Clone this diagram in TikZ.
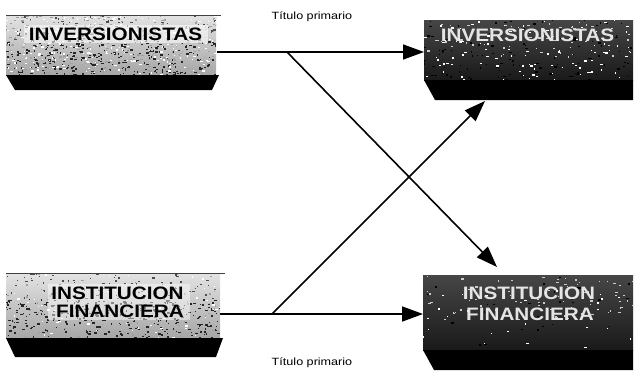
\documentclass[tikz,border=0pt]{standalone}
\usepackage{fontspec}
\setmainfont{Liberation Sans}
\usetikzlibrary{arrows.meta}
% speckle texture: colour, count, x, y, width, height
\newcommand\specks[6]{%
  \foreach \k in {1,...,#2}{%
    \fill[#1] ({#3+rnd*#5},{#4+rnd*#6}) rectangle ++({0.6+rnd*2.4},{0.6+rnd*1.4});}}
% a pale textured panel with a black base band: x0, y0, x1, band top, y1
\newcommand\lightpanel[5]{%
  \begin{scope}
    \clip (#1,#2) rectangle (#3,#4);
    \fill[top color=gray!22, bottom color=gray!70] (#1,#2) rectangle (#3,#4);
    \specks{gray!75}{320}{#1}{#2}{#3-#1}{#4-#2}
    \specks{black!85}{320}{#1}{#2+(#4-#2)*0.4}{#3-#1}{(#4-#2)*0.6}
    \specks{black!70}{90}{#1}{#2}{#3-#1}{(#4-#2)*0.4}
    \specks{white}{260}{#1}{#2}{#3-#1}{#4-#2}
  \end{scope}
  \fill[black] (#1,#4) -- (#3+3,#4) -- (#3-4,#5) -- (#1+9,#5) -- cycle;
  \draw[black!75, line width=0.8pt] (#1,#2) -- (#3+5,#2);}
% a dark textured panel with a black base band: x0, y0, x1, band top, y1
\newcommand\darkpanel[5]{%
  \begin{scope}
    \clip (#1,#2) rectangle (#3,#4);
    \fill[top color=gray!55!black, bottom color=black!90] (#1,#2) rectangle (#3,#4);
    \specks{white}{340}{#1}{#2}{#3-#1}{#4-#2}
    \specks{black}{380}{#1}{#2}{#3-#1}{#4-#2}
    \specks{gray!40}{220}{#1}{#2}{#3-#1}{(#4-#2)*0.6}
  \end{scope}
  \fill[black] (#1,#4) -- (#3,#4) -- (#3,#5) -- (#1+11,#5) -- cycle;}
\begin{document}
\begin{tikzpicture}[x=1pt,y=-1pt,
  boxnode/.style={inner sep=0pt, outer sep=0pt},
  big/.style={font=\fontsize{18}{20}\selectfont\bfseries, inner sep=0pt, xscale=1.15},
  caption/.style={font=\fontsize{10.5}{12}\selectfont, inner sep=0pt, xscale=1.2},
  arr/.style={line width=1.6pt, -{Triangle[length=21pt,width=15pt]}}]
\useasboundingbox (0,0) rectangle (636,372);
\pgfmathsetseed{4213}

% panels
\lightpanel{6}{15}{216}{75}{90}
\darkpanel{424}{20}{633}{80}{100}
\lightpanel{6}{273}{220}{338}{357}
\darkpanel{423}{275}{633}{350}{370}

% pale patches behind the dark lettering
\fill[white, opacity=0.55] (24,25) rectangle (208,43);
\fill[white, opacity=0.45] (48,284) rectangle (190,320);

% named box areas
\node[boxnode, minimum width=210pt, minimum height=75pt] (inv1) at (112,52.5) {};
\node[boxnode, minimum width=209pt, minimum height=80pt] (inv2) at (528.5,60) {};
\node[boxnode, minimum width=214pt, minimum height=84pt] (fin1) at (113,315) {};
\node[boxnode, minimum width=210pt, minimum height=95pt] (fin2) at (528,322.5) {};

% labels of the left panels: dark lettering
\node[big, black] (t1) at (115.5,34) {INVERSIONISTAS};
\node[big, black] (t2) at (117.5,293.5) {INSTITUCION};
\node[big, black] (t3) at (120,311) {FINANCIERA};
% labels of the right panels: light lettering
\node[big, white!80!gray] (t4) at (527.5,35) {INVERSIONISTAS};
\node[big, white!80!gray] (t5) at (529,293.5) {INSTITUCION};
\node[big, white!80!gray] (t6) at (530,314.5) {FINANCIERA};

% captions
\node[caption] (c1) at (312,17) {Título primario};
\node[caption] (c2) at (312,363) {Título primario};

% junctions and arrow ends
\coordinate (ja) at (inv1.east |- 0,52);
\coordinate (jb) at (287,52);
\coordinate (jc) at (fin1.east |- 0,314);
\coordinate (jd) at (272,314);
\coordinate (ea) at (inv2.west |- 0,52);
\coordinate (eb) at (fin2.west |- 0,314);
\coordinate (ec) at (497,267);
\coordinate (ed) at (485,101);

% connectors
\draw[arr] (ja) -- (ea);
\draw[arr] (jc) -- (eb);
\draw[arr] (jb) -- (ec);
\draw[arr] (jd) -- (ed);
\end{tikzpicture}
\end{document}
